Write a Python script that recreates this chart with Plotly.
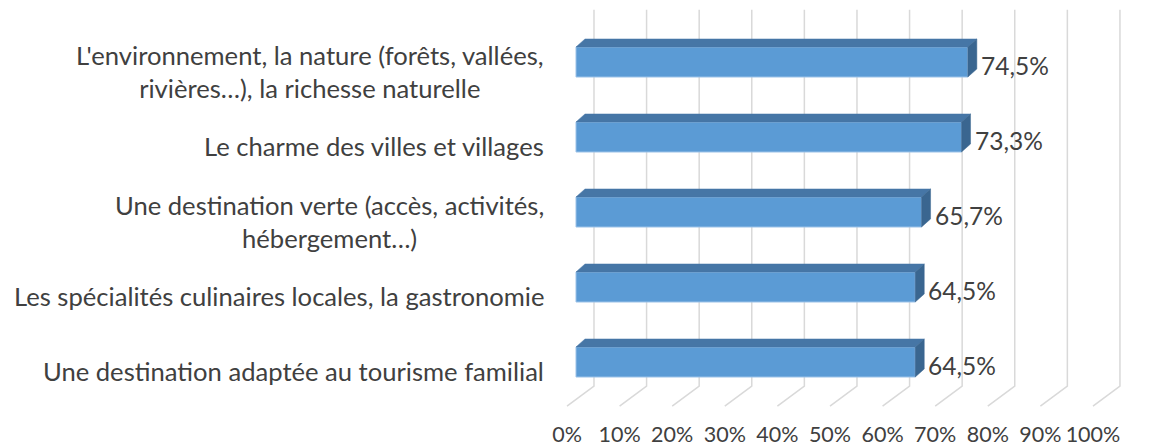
import plotly.graph_objects as go

categories = [
    "L'environnement, la nature (forêts, vallées,<br>rivières…), la richesse naturelle",
    "Le charme des villes et villages",
    "Une destination verte (accès, activités,<br>hébergement…)",
    "Les spécialités culinaires locales, la gastronomie",
    "Une destination adaptée au tourisme familial",
]
values = [74.5, 73.3, 65.7, 64.5, 64.5]
tick_values = [0, 10, 20, 30, 40, 50, 60, 70, 80, 90, 100]
tick_labels = [f"{v}%" for v in tick_values]

# styling / pseudo-3D geometry (data units)
FONT = "Lato"
TXT = "#404040"
FRONT = "#5B9BD5"
TOP = "#4676A6"
SIDE = "#3A6690"
GRID = "#D9D9D9"
BAR_H = 0.4
DEPTH_X = 1.71
DEPTH_Y = 0.107
BACK_X = 3.42
FLOOR_X = -1.71
GRID_TOP = 4.696
BACK_FLOOR = -0.321
FRONT_FLOOR = -0.589

n = len(categories)
ypos = [n - 1 - i for i in range(n)]

fig = go.Figure()
fig.add_trace(go.Bar(
    x=values, y=ypos, orientation="h", width=BAR_H,
    marker=dict(color=FRONT, line=dict(color="#9CC2E8", width=1)),
    hoverinfo="skip", showlegend=False,
))

shapes = []
for v in tick_values:
    shapes.append(dict(type="path", layer="below",
                       path=f"M {v + BACK_X},{GRID_TOP} L {v + BACK_X},{BACK_FLOOR} L {v + FLOOR_X},{FRONT_FLOOR}",
                       line=dict(color=GRID, width=1.5), xref="x", yref="y"))
for v, y in zip(values, ypos):
    t = y + BAR_H / 2
    b = y - BAR_H / 2
    shapes.append(dict(type="path", layer="above", xref="x", yref="y",
                       path=f"M 0,{t} L {v},{t} L {v + DEPTH_X},{t + DEPTH_Y} L {DEPTH_X},{t + DEPTH_Y} Z",
                       fillcolor=TOP, line=dict(color=TOP, width=0.5)))
    shapes.append(dict(type="path", layer="above", xref="x", yref="y",
                       path=f"M {v},{b} L {v},{t} L {v + DEPTH_X},{t + DEPTH_Y} L {v + DEPTH_X},{b + DEPTH_Y} Z",
                       fillcolor=SIDE, line=dict(color=SIDE, width=0.5)))

annotations = []
for c, y in zip(categories, ypos):
    annotations.append(dict(text=c, x=0, xref="paper", y=y, yref="y",
                            xanchor="right", yanchor="middle", align="center",
                            xshift=-4, yshift=-9, showarrow=False,
                            font=dict(family=FONT, size=25.6, color=TXT)))
for v, y in zip(values, ypos):
    annotations.append(dict(text=f"{v:.1f}%".replace(".", ","), x=v, xref="x", y=y, yref="y",
                            xanchor="left", yanchor="middle", xshift=11, yshift=-3,
                            showarrow=False,
                            font=dict(family=FONT, size=24.5, color=TXT)))

fig.update_layout(
    width=1150, height=448,
    margin=dict(l=550, r=20, t=2, b=30, autoexpand=False),
    paper_bgcolor="white", plot_bgcolor="white",
    shapes=shapes, annotations=annotations,
    xaxis=dict(range=[-4.943, 105.33], showgrid=False, zeroline=False, showline=False,
               automargin=False,
               tickvals=[v + FLOOR_X for v in tick_values], ticktext=tick_labels,
               tickfont=dict(family=FONT, size=21.5, color=TXT), ticks="",
               ticklabelstandoff=1),
    yaxis=dict(range=[-0.7467, 4.8], showgrid=False, zeroline=False, showline=False,
               automargin=False, showticklabels=False),
)

fig.write_html("out.html", config={"displayModeBar": False},
               post_script="document.body.style.margin='0';document.body.style.overflow='hidden';")
